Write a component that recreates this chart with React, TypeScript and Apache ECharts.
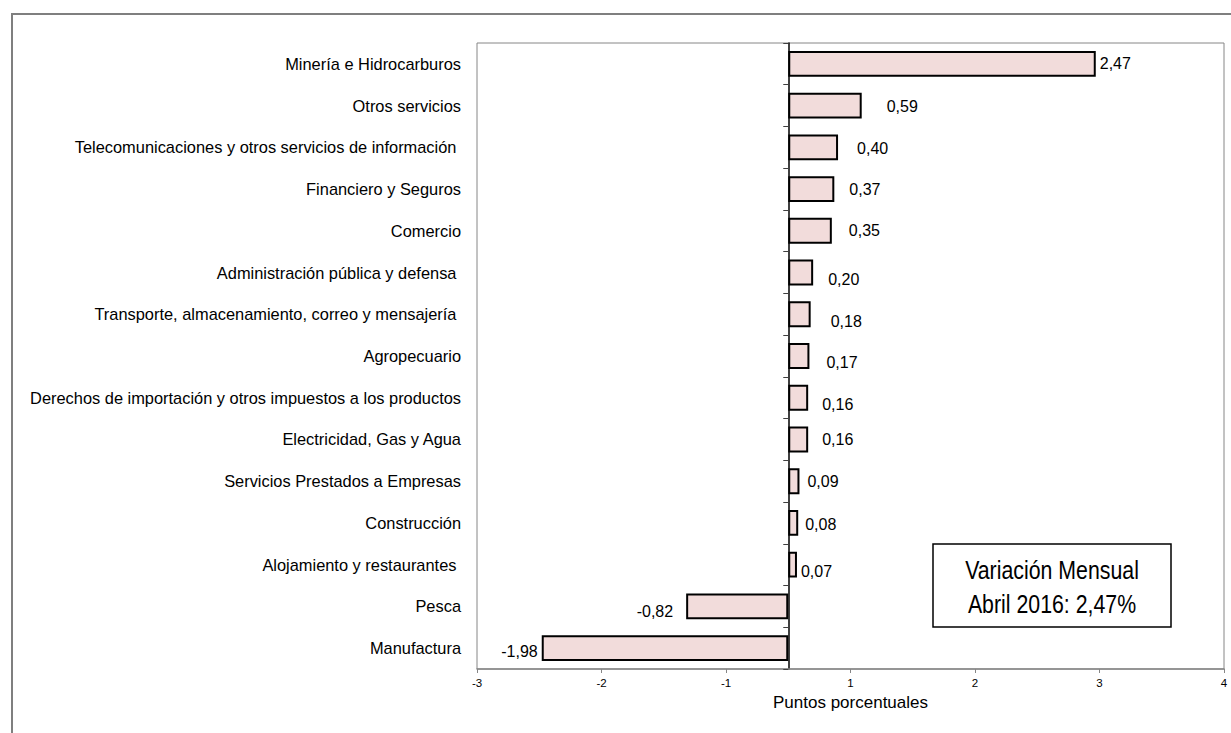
import React, { useEffect, useRef } from "react";
import * as echarts from "echarts";

const categories = [
  "Minería e Hidrocarburos",
  "Otros servicios",
  "Telecomunicaciones y otros servicios de información ",
  "Financiero y Seguros",
  "Comercio",
  "Administración pública y defensa ",
  "Transporte, almacenamiento, correo y mensajería ",
  "Agropecuario",
  "Derechos de importación y otros impuestos a los productos",
  "Electricidad, Gas y Agua",
  "Servicios Prestados a Empresas",
  "Construcción",
  "Alojamiento y restaurantes ",
  "Pesca",
  "Manufactura",
];

const values = [2.47, 0.59, 0.4, 0.37, 0.35, 0.2, 0.18, 0.17, 0.16, 0.16, 0.09, 0.08, 0.07, -0.82, -1.98];

// label placement nudges (distance from bar end, vertical shift) — styling only
const labelNudges = [
  [4, 0], [25, 1], [19, 1], [15, 0], [17, 0], [15, 7], [20, 7], [17, 6],
  [14, 7], [14, 0], [8, 0], [7, 2], [4, 7], [13, 5], [4, 3],
];

const axisMin = -2.5;
const axisMax = 3.5;
const axisInterval = 1;

const boxLines = ["Variación Mensual", "Abril 2016: 2,47%"];
const axisTitle = "Puntos porcentuales";

const FONT = "'Liberation Sans', Arial, sans-serif";

export default function App() {
  const ref = useRef<HTMLDivElement>(null);
  useEffect(() => {
    if (!ref.current) return;
    const chart = echarts.init(ref.current, undefined, { renderer: "svg" });
    const data = values.map((v, i) => ({
      value: v,
      label: {
        position: v < 0 ? "left" : "right",
        distance: labelNudges[i][0],
        offset: [0, labelNudges[i][1]],
      },
    }));
    chart.setOption({
      animation: false,
      backgroundColor: "#ffffff",
      grid: {
        left: 477,
        right: 7,
        top: 43,
        bottom: 64,
        show: true,
        borderColor: "#868686",
        borderWidth: 1,
        containLabel: false,
        outerBoundsMode: "none",
      },
      xAxis: {
        type: "value",
        min: axisMin,
        max: axisMax,
        interval: axisInterval,
        name: axisTitle,
        nameLocation: "middle",
        nameGap: 24,
        nameTextStyle: { fontFamily: FONT, fontSize: 17, color: "#000" },
        axisLine: { show: true, onZero: false, lineStyle: { color: "#868686", width: 1.5 } },
        axisTick: { show: true, length: 4, lineStyle: { color: "#868686" } },
        splitLine: { show: false },
        axisLabel: {
          fontFamily: FONT,
          fontSize: 11.5,
          color: "#000",
          margin: 8,
          formatter: (v: number) => String(Math.sign(v) * Math.round(Math.abs(v))),
        },
      },
      yAxis: [
        {
          type: "category",
          data: categories,
          inverse: true,
          position: "left",
          axisLine: { show: false, onZero: false },
          axisTick: { show: false },
          splitLine: { show: false },
          axisLabel: {
            fontFamily: FONT,
            fontSize: 16.4,
            color: "#000",
            margin: 16,
          },
        },
        {
          type: "category",
          data: categories,
          inverse: true,
          position: "left",
          axisLine: { show: true, onZero: true, lineStyle: { color: "#000", width: 1.5 } },
          axisTick: { show: true, length: 5, lineStyle: { color: "#404040", width: 1 } },
          axisLabel: { show: false },
          splitLine: { show: false },
        },
      ],
      series: [
        {
          type: "bar",
          yAxisIndex: 0,
          data,
          barCategoryGap: "38%",
          itemStyle: { color: "#f2dcdb", borderColor: "#000", borderWidth: 2 },
          label: {
            show: true,
            fontFamily: FONT,
            fontSize: 16,
            color: "#000",
            formatter: (p: any) => p.value.toFixed(2).replace(".", ","),
          },
        },
      ],
      graphic: [
        {
          type: "rect",
          shape: { x: 12, y: 14, width: 1400, height: 900 },
          style: { fill: "none", stroke: "#7f7f7f", lineWidth: 2 },
          silent: true,
          z: -10,
        },
        {
          type: "rect",
          shape: { x: 933, y: 544, width: 238, height: 83 },
          style: { fill: "#ffffff", stroke: "#000", lineWidth: 1.5 },
          z: 10,
        },
        {
          type: "text",
          x: 1052,
          y: 570,
          scaleX: 0.82,
          style: {
            text: boxLines[0],
            fontFamily: FONT,
            fontSize: 26,
            fill: "#000",
            textAlign: "center",
            textVerticalAlign: "middle",
          },
          z: 11,
        },
        {
          type: "text",
          x: 1052,
          y: 604,
          scaleX: 0.82,
          style: {
            text: boxLines[1],
            fontFamily: FONT,
            fontSize: 26,
            fill: "#000",
            textAlign: "center",
            textVerticalAlign: "middle",
          },
          z: 11,
        },
      ],
    });
    return () => chart.dispose();
  }, []);
  return (
    <div
      ref={ref}
      style={{ position: "absolute", left: 0, top: 0, width: 1231, height: 733 }}
    />
  );
}
